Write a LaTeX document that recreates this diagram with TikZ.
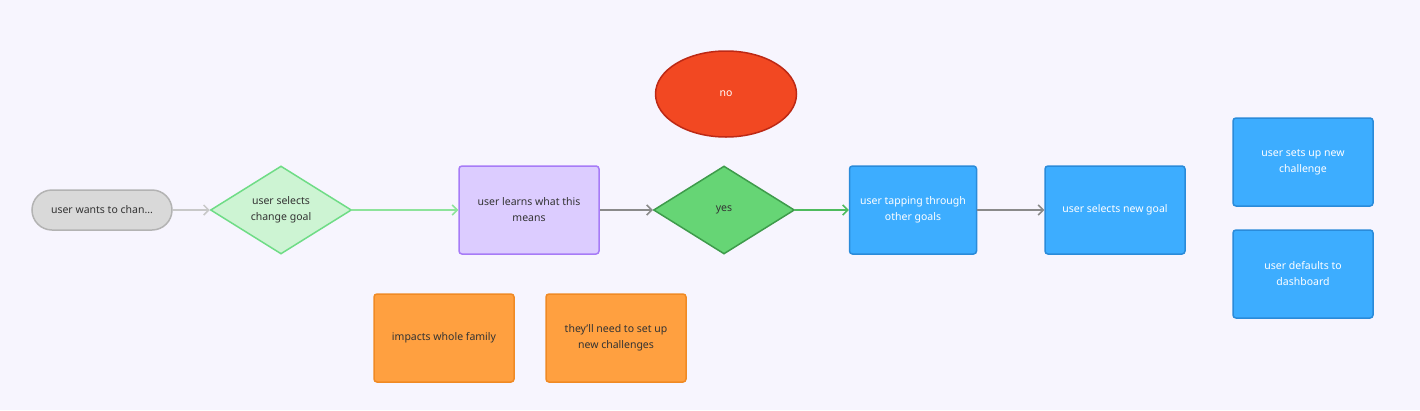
\documentclass[tikz,border=0pt]{standalone}
\usepackage{fontspec}
\setmainfont{Noto Sans}
\usetikzlibrary{shapes.geometric,arrows.meta}

\definecolor{bgcol}{HTML}{F7F5FE}
\definecolor{txtcol}{HTML}{333333}
\definecolor{startfill}{HTML}{D9D9D9}
\definecolor{startline}{HTML}{B3B3B3}
\definecolor{paleGreenFill}{HTML}{CDF4D3}
\definecolor{paleGreenLine}{HTML}{6FDC86}
\definecolor{purpleFill}{HTML}{DCCCFF}
\definecolor{purpleLine}{HTML}{A77BF7}
\definecolor{greenFill}{HTML}{66D575}
\definecolor{greenLine}{HTML}{3E9B4B}
\definecolor{redFill}{HTML}{F24822}
\definecolor{redLine}{HTML}{BD2915}
\definecolor{blueFill}{HTML}{3DADFF}
\definecolor{blueLine}{HTML}{2A8BDA}
\definecolor{orangeFill}{HTML}{FFA040}
\definecolor{orangeLine}{HTML}{F08A24}
\definecolor{arrowGray}{HTML}{8A8A8A}
\definecolor{arrowLight}{HTML}{C8C8C8}
\definecolor{arrowPaleGreen}{HTML}{8DE39B}
\definecolor{arrowGreen}{HTML}{4EBB5E}

\tikzset{
  every node/.style={font=\fontsize{10.5}{16}\selectfont, align=center, text=txtcol, line width=1.5pt},
  card/.style={rectangle, rounded corners=3pt, minimum width=140pt, minimum height=88pt, inner sep=2pt},
  bluecard/.style={card, fill=blueFill, draw=blueLine, text=white},
  notecard/.style={card, fill=orangeFill, draw=orangeLine},
  choice/.style={diamond, aspect=1.6, minimum width=141pt, minimum height=88pt, inner sep=0pt},
  flow/.style={line width=1.5pt, -{Straight Barb[length=5pt,width=10pt,line width=1.5pt]}},
}

\begin{document}
\begin{tikzpicture}[x=1pt,y=-1pt]
    \fill[bgcol] (0,0) rectangle (1420,410);  % background
    \useasboundingbox (0,0) rectangle (1420,410);

    % main row
    \node[rectangle, rounded corners=20pt, minimum width=140pt, minimum height=40pt,
          fill=startfill, draw=startline] (wants) at (102,210) {user wants to chan...};
    \node[choice, fill=paleGreenFill, draw=paleGreenLine] (selects) at (281,210) {user selects\\change goal};
    \node[card, fill=purpleFill, draw=purpleLine] (learns) at (529,210) {user learns what this\\means};
    \node[choice, fill=greenFill, draw=greenLine] (yes) at (724,210) {yes};
    \node[bluecard, minimum width=127pt] (tapping) at (913,210) {user tapping through\\other goals};
    \node[bluecard] (newgoal) at (1115,210) {user selects new goal};

    % the other answer
    \node[ellipse, minimum width=141pt, minimum height=86pt, fill=redFill, draw=redLine, text=white] (no) at (726,94) {no};

    % end states
    \node[bluecard] (challenge) at (1303,162) {user sets up new\\challenge};
    \node[bluecard] (dashboard) at (1303,274) {user defaults to\\dashboard};

    % notes
    \node[notecard] (family) at (444,338) {impacts whole family};
    \node[notecard] (setup) at (616,338) {they'll need to set up\\new challenges};

    % connectors
    \draw[flow, arrowLight] (wants) -- (selects);
    \draw[flow, arrowPaleGreen] (selects) -- (learns);
    \draw[flow, arrowGray] (learns) -- (yes);
    \draw[flow, arrowGreen] (yes) -- (tapping);
    \draw[flow, arrowGray] (tapping) -- (newgoal);
\end{tikzpicture}
\end{document}
